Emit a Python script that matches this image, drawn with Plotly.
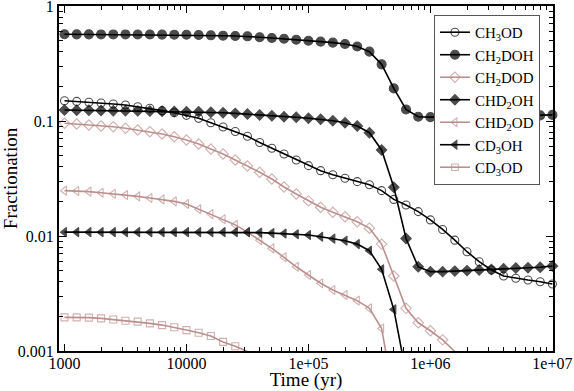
import plotly.graph_objects as go

# time grid (yr), one point every 0.1 dex
time = [1000, 1259, 1585, 1995, 2512, 3162, 3981, 5012, 6310, 7943,
        10000, 12589, 15849, 19953, 25119, 31623, 39811, 50119, 63096, 79433,
        100000, 125893, 158489, 199526, 251189, 316228, 398107, 501187, 630957, 794328,
        1000000, 1258925, 1584893, 1995262, 2511886, 3162278, 3981072, 5011872, 6309573,
        7943282, 10000000]

ch3od = [0.150, 0.148, 0.1455, 0.1435, 0.1406, 0.1377, 0.133, 0.129, 0.123, 0.118,
         0.112, 0.1055, 0.0967, 0.0887, 0.081, 0.0736, 0.065, 0.058, 0.0517, 0.0458,
         0.0409, 0.037, 0.0341, 0.0318, 0.0297, 0.0279, 0.0248, 0.0208, 0.0186, 0.0163,
         0.0138, 0.0114, 0.0092, 0.0073, 0.00598, 0.00506, 0.00449, 0.00429, 0.00414,
         0.0040, 0.00383]
ch2doh = [0.568, 0.567, 0.567, 0.566, 0.566, 0.566, 0.565, 0.565, 0.564, 0.563,
          0.562, 0.560, 0.556, 0.552, 0.548, 0.545, 0.535, 0.527, 0.519, 0.509,
          0.499, 0.490, 0.480, 0.467, 0.444, 0.401, 0.311, 0.192, 0.126, 0.109,
          0.108, 0.108, 0.109, 0.109, 0.110, 0.110, 0.111, 0.111, 0.112, 0.112, 0.113]
ch2dod = [0.0955, 0.0942, 0.0923, 0.0905, 0.0892, 0.0864, 0.0835, 0.0807, 0.0771, 0.073,
          0.0684, 0.0631, 0.0571, 0.0517, 0.0458, 0.0406, 0.0358, 0.0313, 0.0267, 0.0232,
          0.0202, 0.0178, 0.0161, 0.0147, 0.0133, 0.0117, 0.0085, 0.00449, 0.00235, 0.00176,
          0.0015, 0.00125, 0.00099]
chd2oh = [0.1245, 0.124, 0.124, 0.1235, 0.123, 0.123, 0.1225, 0.122, 0.1215, 0.121,
          0.1205, 0.1205, 0.119, 0.118, 0.1165, 0.115, 0.113, 0.111, 0.109, 0.1077,
          0.1057, 0.1035, 0.1006, 0.0967, 0.0905, 0.0791, 0.056, 0.0265, 0.0095, 0.0054,
          0.0049, 0.0049, 0.00495, 0.0050, 0.00506, 0.00512, 0.0052, 0.00526, 0.0053,
          0.00535, 0.00548]
chd2od = [0.0248, 0.0246, 0.0243, 0.0238, 0.0233, 0.0227, 0.0221, 0.0214, 0.0208, 0.0200,
          0.0190, 0.0171, 0.0155, 0.0140, 0.0125, 0.0108, 0.0092, 0.0078, 0.00653, 0.0054,
          0.00458, 0.00388, 0.00339, 0.00307, 0.00274, 0.00235, 0.00157, 0.0004]
cd3oh = [0.0108, 0.0108, 0.0108, 0.0108, 0.0108, 0.0108, 0.0108, 0.0108, 0.0108, 0.0108,
         0.0108, 0.0108, 0.0108, 0.0108, 0.0108, 0.0108, 0.0107, 0.0106, 0.0105, 0.01035,
         0.0102, 0.00986, 0.00948, 0.0091, 0.0085, 0.00745, 0.00513, 0.0023, 0.00064]
cd3od = [0.00196, 0.00196, 0.00195, 0.00192, 0.00188, 0.00183, 0.0018, 0.00174, 0.00168,
         0.00161, 0.00152, 0.00144, 0.00135, 0.0012, 0.0011, 0.00099, 0.00085]

x_ticks = [1000, 10000, 100000, 1000000, 10000000]
x_labels = ["1000", "10000", "1e+05", "1e+06", "1e+07"]
y_ticks = [0.001, 0.01, 0.1, 1]
y_labels = ["0.001", "0.01", "0.1", "1"]

PINK = "#bc8f8f"
FONT = "Liberation Serif"
YMIN = 0.001

series = [
    ("CH<sub>3</sub>OD", ch3od, "circle-open", "black", 8),
    ("CH<sub>2</sub>DOH", ch2doh, "circle", "black", 9),
    ("CH<sub>2</sub>DOD", ch2dod, "diamond-open", PINK, 8),
    ("CHD<sub>2</sub>OH", chd2oh, "diamond", "black", 8),
    ("CHD<sub>2</sub>OD", chd2od, "triangle-left-open", PINK, 8),
    ("CD<sub>3</sub>OH", cd3oh, "triangle-left", "black", 8),
    ("CD<sub>3</sub>OD", cd3od, "square-open", PINK, 7),
]

fig = go.Figure()
for name, vals, symbol, color, size in series:
    # hide markers that fall below the axis (the line still runs out of the frame)
    sizes = [size if v >= YMIN * 0.98 else 0 for v in vals]
    fig.add_trace(go.Scatter(
        x=time[:len(vals)], y=vals, name=name, mode="lines+markers",
        line=dict(color=color, width=1.6),
        marker=dict(symbol=symbol, size=sizes, color=color,
                    line=dict(color=color, width=1.1)),
        cliponaxis=False,
    ))

minor_x = [k * 10 ** n for n in range(2, 7) for k in range(2, 10)]
minor_y = [k * 10 ** n for n in range(-3, 0) for k in range(2, 10)]

axis_common = dict(
    type="log", showgrid=False, zeroline=False, automargin=False,
    showline=True, linecolor="black", linewidth=2, mirror="allticks",
    ticks="inside", ticklen=7, tickwidth=1.2, tickcolor="black",
    ticklabeloverflow="allow",
    tickfont=dict(family=FONT, size=16, color="black"),
)

fig.update_layout(
    width=574, height=391,
    margin=dict(l=59, r=21, t=6, b=40),
    paper_bgcolor="white", plot_bgcolor="white",
    font=dict(family=FONT, color="black"),
    xaxis=dict(
        **axis_common, range=[2.955, 7.005],
        tickmode="array", tickvals=x_ticks, ticktext=x_labels,
        ticklabelstandoff=-3,
        minor=dict(tickmode="array", tickvals=minor_x, ticks="inside",
                   ticklen=4, tickwidth=1.2, tickcolor="black", showgrid=False),
        title=dict(text="Time (yr)", font=dict(family=FONT, size=19), standoff=0),
    ),
    yaxis=dict(
        **axis_common, range=[-3, 0],
        tickmode="array", tickvals=y_ticks, ticktext=y_labels,
        minor=dict(tickmode="array", tickvals=minor_y, ticks="inside",
                   ticklen=4, tickwidth=1.2, tickcolor="black", showgrid=False),
        title=dict(text="Fractionation", font=dict(family=FONT, size=19), standoff=4),
    ),
    showlegend=True,
    legend=dict(
        x=0.759, y=0.974, xanchor="left", yanchor="top",
        bgcolor="white", bordercolor="#555555", borderwidth=1,
        font=dict(family=FONT, size=15, color="black"),
        itemwidth=30, tracegroupgap=0,
    ),
)

# drop the browser's default 8px body margin so the figure sits at the page corner
fig.write_html("out.html", config={"displayModeBar": False},
               post_script="document.body.style.margin='0';")
